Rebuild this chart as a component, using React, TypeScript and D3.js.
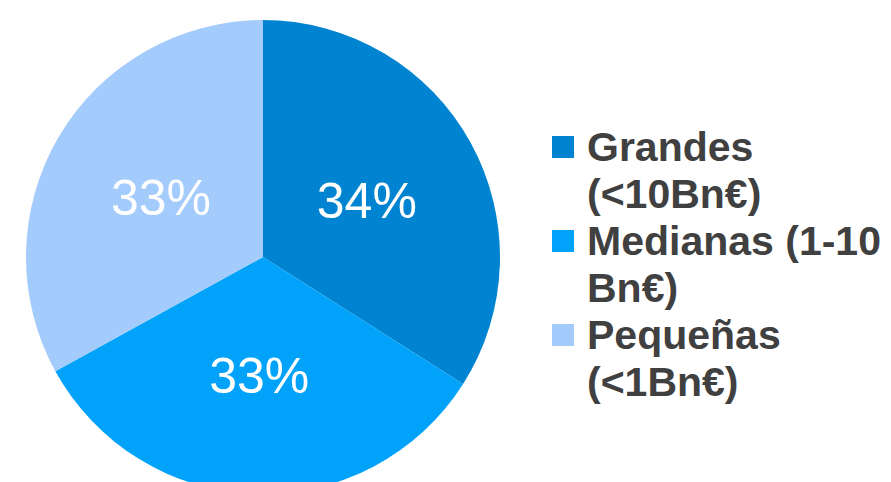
import React from "react";
import * as d3 from "d3";

const categories = ["Grandes (<10Bn€)", "Medianas (1-10 Bn€)", "Pequeñas (<1Bn€)"];
const values = [34, 33, 33];
const sliceLabels = ["34%", "33%", "33%"];
const legendLines = [["Grandes", "(<10Bn€)"], ["Medianas (1-10", "Bn€)"], ["Pequeñas", "(<1Bn€)"]];
const colors = ["#0084D1", "#00A2FA", "#A3CBFB"];

export default function App() {
  const W = 891, H = 482;
  const cx = 263, cy = 257, r = 237;
  const pie = d3.pie<number>().sort(null).value((d) => d);
  const arcs = pie(values);
  const arcGen = d3.arc<d3.PieArcDatum<number>>().innerRadius(0).outerRadius(r);
  const font = "'Liberation Sans', Arial, sans-serif";
  return (
    <svg width={W} height={H} style={{ position: "absolute", left: 0, top: 0, background: "#fff" }}>
      <g transform={`translate(${cx},${cy})`}>
        {arcs.map((a, i) => (
          <path key={i} d={arcGen(a) || ""} fill={colors[i]} />
        ))}
        {arcs.map((a, i) => {
          const [x, y] = arcGen.centroid(a);
          return (
            <text key={"t" + i} x={x} y={y + 18} textAnchor="middle" fill="#fff"
              fontFamily={font} fontSize={50}>{sliceLabels[i]}</text>
          );
        })}
      </g>
      {categories.map((c, i) => {
        const base = 161 + i * 94;
        return (
          <g key={c}>
            <rect x={552} y={base - 25} width={22} height={22} fill={colors[i]} />
            {legendLines[i].map((l, j) => (
              <text key={j} x={587} y={base + j * 47} fill="#404040" fontFamily={font}
                fontWeight="bold" fontSize={41}>{l}</text>
            ))}
          </g>
        );
      })}
    </svg>
  );
}
